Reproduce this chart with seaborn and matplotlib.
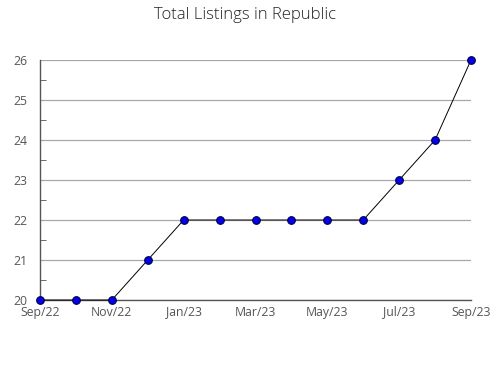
import matplotlib
matplotlib.use("Agg")
import matplotlib.pyplot as plt
import seaborn as sns
import pandas as pd
from matplotlib.ticker import MultipleLocator

months = ["Sep/22", "Oct/22", "Nov/22", "Dec/22", "Jan/23", "Feb/23", "Mar/23",
          "Apr/23", "May/23", "Jun/23", "Jul/23", "Aug/23", "Sep/23"]
listings = [20, 20, 20, 21, 22, 22, 22, 22, 22, 22, 23, 24, 26]
title = "Total Listings in Republic"

sns.set_style("white")
plt.rcParams['font.family'] = ['Open Sans', 'DejaVu Sans']

df = pd.DataFrame({"idx": range(len(months)), "value": listings})

fig = plt.figure(figsize=(4.9, 3.8), dpi=100)
ax = fig.add_axes([40/490, 1-300/380, (471-40)/490, 240/380])

sns.lineplot(data=df, x="idx", y="value", ax=ax, color="black", linewidth=0.7,
             marker="o", markersize=5.5, markerfacecolor="#0000ee",
             markeredgecolor="#000044", markeredgewidth=0.8, clip_on=False, zorder=5)

ax.set_xlim(0, len(months) - 1)
ax.set_ylim(20, 26)
ax.set_xticks(range(len(months)))
ax.set_xticklabels([m if i % 2 == 0 else "" for i, m in enumerate(months)])
ax.yaxis.set_major_locator(MultipleLocator(1))
ax.yaxis.set_minor_locator(MultipleLocator(0.5))
ax.grid(axis="y", which="major", color="#a8a8a8", linewidth=0.9)
ax.set_axisbelow(True)
for s in ["top", "right"]:
    ax.spines[s].set_visible(False)
for s in ["left", "bottom"]:
    ax.spines[s].set_color("#555555")
    ax.spines[s].set_linewidth(1)
ax.tick_params(axis="x", direction="in", length=5, color="#555555", labelcolor="#555555",
               labelsize=8.8, pad=4)
ax.tick_params(axis="y", which="major", direction="in", length=0, labelcolor="#555555",
               labelsize=8.8, pad=9)
ax.tick_params(axis="y", which="minor", direction="in", length=4, color="#555555", left=True)
for lbl in ax.get_yticklabels():
    lbl.set_verticalalignment("center_baseline")
ax.set_xlabel("")
ax.set_ylabel("")
fig.text(0.5, 1-15/380, title, ha="center", va="center", fontsize=12, color="#222222",
         fontweight="light")

fig.savefig("out.png", dpi=100)
